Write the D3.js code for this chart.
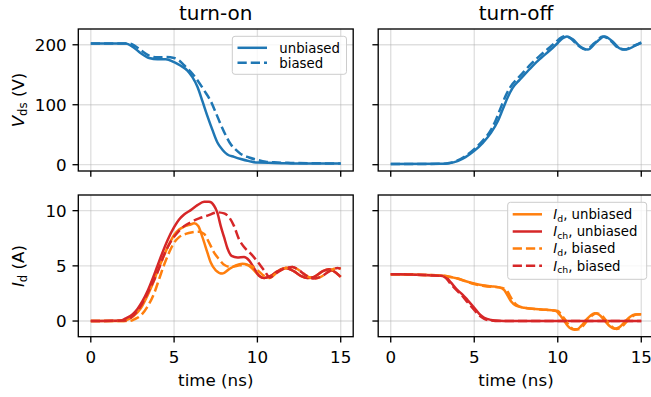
<!DOCTYPE html>
<html><head><meta charset="utf-8">
<script src="https://cdn.jsdelivr.net/npm/d3@7"></script>
<style>
html,body{margin:0;padding:0;background:#fff;}
svg{display:block;font-family:"DejaVu Sans",sans-serif;}
</style></head>
<body><svg id="chart" width="651" height="397"></svg>
<script>
// ---------- data ----------
const xTicks = [0, 5, 10, 15];
const vdsTicks = [0, 100, 200];
const idTicks = [0, 5, 10];
const titles = ["turn-on", "turn-off"];

// turn-on, V_ds
const onVdsUnbiasedT = [0, 2.1, 2.5, 3.0, 3.5, 4.0, 4.5, 5.0, 5.4, 5.8, 6.1, 6.4, 6.7, 7.0, 7.3, 7.6, 7.9, 8.2, 8.6, 9.0, 9.5, 10, 11, 13, 15];
const onVdsUnbiasedV = [202, 202, 197, 186, 178, 176, 176, 171, 165, 157, 146, 130, 106, 81, 58, 37, 25, 17, 13, 9.5, 6, 3.5, 3, 2, 2];
const onVdsBiasedT = [0, 2.3, 2.6, 3.0, 3.5, 4.0, 4.5, 5.0, 5.3, 5.6, 6.0, 6.4, 6.8, 7.2, 7.5, 7.8, 8.1, 8.4, 8.7, 9.0, 9.5, 10, 10.5, 11, 12, 15];
const onVdsBiasedV = [202, 202, 199, 191, 182, 179, 179.5, 178, 174, 166, 155, 141, 124, 106, 87, 67, 49, 34, 25, 18, 12, 8, 5, 4, 3, 2];

// turn-off, V_ds
const offVdsUnbiasedT = [0, 3, 3.5, 4.0, 4.5, 5.0, 5.5, 6.0, 6.4, 6.7, 7.0, 7.3, 7.7, 8.1, 8.5, 9.0, 9.5, 10.0, 10.3, 10.55, 10.9, 11.3, 11.8, 12.3, 12.8, 13.3, 13.7, 14.1, 14.6, 15];
const offVdsUnbiasedV = [1, 1.5, 2.5, 6, 13, 23, 36, 53, 72, 92, 112, 128, 141, 153, 165, 178, 190, 203, 211, 214, 209, 198, 192, 204, 214, 205, 194, 192, 198, 204];
const offVdsBiasedT = [0, 3, 3.5, 4.0, 4.5, 5.0, 5.5, 6.0, 6.3, 6.6, 6.9, 7.2, 7.6, 8.0, 8.4, 8.9, 9.4, 9.9, 10.2, 10.45, 10.8, 11.2, 11.7, 12.2, 12.7, 13.2, 13.6, 14.0, 14.5, 15];
const offVdsBiasedV = [1, 1.5, 3, 7, 15, 26, 40, 58, 75, 96, 116, 131, 144, 156, 168, 181, 193, 205, 212, 214.5, 210, 199, 192, 203, 214, 206, 195, 192, 198, 203];

// turn-on, currents
const onIdUnbiasedT = [0, 2.0, 2.3, 2.6, 3.0, 3.4, 3.7, 4.0, 4.3, 4.6, 5.0, 5.3, 5.6, 6.0, 6.2, 6.45, 6.7, 7.0, 7.2, 7.5, 7.9, 8.3, 8.7, 9.1, 9.4, 9.8, 10.1, 10.4, 10.8, 11.2, 11.7, 12.2, 12.6, 13.0, 13.4, 13.9, 14.3, 14.7, 15];
const onIdUnbiasedV = [0, 0, 0.2, 0.5, 1.15, 2.3, 3.3, 4.5, 5.6, 6.65, 7.8, 8.3, 8.55, 8.75, 8.85, 8.6, 7.6, 6.2, 5.3, 4.6, 4.3, 4.7, 5.05, 5.2, 5.1, 4.6, 4.1, 3.9, 4.1, 4.5, 4.8, 4.5, 4.1, 3.9, 4.0, 4.5, 4.7, 4.4, 4.0];
const onIchUnbiasedT = [0, 1.8, 2.1, 2.5, 2.8, 3.1, 3.4, 3.7, 4.0, 4.3, 4.6, 5.0, 5.3, 5.6, 6.0, 6.4, 6.8, 7.1, 7.4, 7.6, 7.8, 8.0, 8.2, 8.45, 8.8, 9.2, 9.5, 9.8, 10.1, 10.4, 10.8, 11.2, 11.7, 12.2, 12.6, 13.0, 13.4, 13.9, 14.3, 14.7, 15];
const onIchUnbiasedV = [0, 0.05, 0.25, 0.6, 1.1, 1.8, 2.7, 3.8, 5.0, 6.2, 7.3, 8.5, 9.2, 9.65, 10.05, 10.5, 10.8, 10.8, 10.45, 9.8, 8.6, 7.6, 6.6, 5.9, 5.75, 5.8, 5.5, 4.8, 4.1, 3.9, 4.1, 4.5, 4.8, 4.5, 4.1, 3.9, 4.0, 4.5, 4.7, 4.4, 4.0];
const onIdBiasedT = [0, 2.3, 2.6, 3.0, 3.4, 3.8, 4.1, 4.4, 4.7, 5.0, 5.3, 5.7, 6.1, 6.5, 6.8, 7.1, 7.4, 7.7, 8.0, 8.4, 8.8, 9.2, 9.6, 10.0, 10.4, 10.75, 11.1, 11.6, 12.1, 12.5, 12.9, 13.4, 13.8, 14.3, 14.8, 15];
const onIdBiasedV = [0, 0, 0.15, 0.5, 1.3, 2.5, 3.8, 5.1, 6.2, 7.1, 7.6, 7.9, 8.05, 8.1, 7.9, 7.1, 6.2, 5.6, 5.1, 4.9, 5.0, 5.1, 5.0, 4.6, 4.1, 3.9, 4.3, 4.75, 4.9, 4.6, 4.15, 3.85, 4.0, 4.5, 4.8, 4.75];
const onIchBiasedT = [0, 2.1, 2.4, 2.8, 3.2, 3.6, 4.0, 4.4, 4.8, 5.2, 5.6, 6.0, 6.5, 7.0, 7.6, 8.0, 8.3, 8.6, 8.9, 9.2, 9.6, 10.0, 10.4, 10.75, 11.1, 11.6, 12.1, 12.5, 12.9, 13.4, 13.8, 14.3, 14.8, 15];
const onIchBiasedV = [0, 0.05, 0.3, 0.9, 1.9, 3.1, 4.4, 6.0, 7.2, 8.0, 8.6, 8.95, 9.3, 9.55, 9.85, 9.75, 9.4, 8.6, 7.4, 6.7, 6.1, 5.4, 4.6, 3.95, 4.3, 4.75, 4.9, 4.6, 4.15, 3.85, 4.0, 4.5, 4.8, 4.75];

// turn-off, currents
const offIdUnbiasedT = [0, 1, 2, 3, 3.5, 4.0, 4.5, 5.0, 5.5, 6.0, 6.5, 6.8, 7.0, 7.2, 7.5, 8.0, 9.0, 9.9, 10.1, 10.35, 10.6, 10.9, 11.15, 11.4, 11.7, 12.0, 12.2, 12.5, 12.8, 13.1, 13.4, 13.7, 14.0, 14.3, 14.6, 15];
const offIdUnbiasedV = [4.25, 4.22, 4.18, 4.12, 4.02, 3.85, 3.6, 3.4, 3.25, 3.15, 3.05, 2.8, 2.3, 1.8, 1.4, 1.2, 1.05, 0.9, 0.6, 0.1, -0.45, -0.75, -0.75, -0.45, 0.1, 0.55, 0.7, 0.55, 0.05, -0.45, -0.7, -0.55, -0.1, 0.35, 0.6, 0.62];
const offIchUnbiasedT = [0, 1, 2, 3.0, 3.3, 3.6, 4.0, 4.3, 4.6, 5.0, 5.3, 5.6, 6.0, 6.5, 7, 15];
const offIchUnbiasedV = [4.25, 4.22, 4.17, 4.1, 4.0, 3.5, 2.8, 2.4, 1.9, 1.2, 0.65, 0.3, 0.1, 0.02, 0, 0];
const offIdBiasedT = [0, 1, 2, 3, 3.5, 4.0, 4.5, 5.0, 5.5, 6.0, 6.5, 6.9, 7.1, 7.3, 7.6, 8.0, 9.0, 10.0, 10.2, 10.45, 10.7, 11.0, 11.25, 11.5, 11.8, 12.1, 12.3, 12.6, 12.9, 13.2, 13.5, 13.8, 14.1, 14.4, 14.7, 15];
const offIdBiasedV = [4.25, 4.22, 4.18, 4.12, 4.02, 3.85, 3.6, 3.35, 3.2, 3.1, 3.05, 2.85, 2.4, 1.85, 1.4, 1.2, 1.05, 0.9, 0.6, 0.1, -0.45, -0.78, -0.75, -0.45, 0.1, 0.55, 0.7, 0.55, 0.05, -0.45, -0.72, -0.55, -0.1, 0.35, 0.6, 0.62];
const offIchBiasedT = [0, 1, 2, 3.0, 3.3, 3.6, 4.0, 4.3, 4.6, 5.0, 5.3, 5.6, 6.0, 6.5, 15];
const offIchBiasedV = [4.25, 4.22, 4.17, 4.08, 3.9, 3.35, 2.7, 2.25, 1.7, 1.0, 0.5, 0.2, 0.05, 0, 0];

// ---------- drawing ----------
const BLUE = "#1f77b4", ORANGE = "#ff7f0e", RED = "#d62728";
const DASH = "9.25,4";
const svg = d3.select("#chart");
const pair = (t, v) => t.map((d, i) => ({t: d, v: v[i]}));

const colX = [[78.3, 353.2], [378.2, 653.8]];
const rowY = [[29, 171], [195, 336.7]];

const panels = [
  {c: 0, r: 0, yDomain: [-10.5, 226.3], yTicks: vdsTicks, series: [
    {d: pair(onVdsUnbiasedT, onVdsUnbiasedV), color: BLUE},
    {d: pair(onVdsBiasedT, onVdsBiasedV), color: BLUE, dash: true}]},
  {c: 1, r: 0, yDomain: [-10.5, 226.3], yTicks: vdsTicks, series: [
    {d: pair(offVdsUnbiasedT, offVdsUnbiasedV), color: BLUE},
    {d: pair(offVdsBiasedT, offVdsBiasedV), color: BLUE, dash: true}]},
  {c: 0, r: 1, yDomain: [-1.42, 11.42], yTicks: idTicks, series: [
    {d: pair(onIdUnbiasedT, onIdUnbiasedV), color: ORANGE},
    {d: pair(onIchUnbiasedT, onIchUnbiasedV), color: RED},
    {d: pair(onIdBiasedT, onIdBiasedV), color: ORANGE, dash: true},
    {d: pair(onIchBiasedT, onIchBiasedV), color: RED, dash: true}]},
  {c: 1, r: 1, yDomain: [-1.42, 11.42], yTicks: idTicks, series: [
    {d: pair(offIdUnbiasedT, offIdUnbiasedV), color: ORANGE},
    {d: pair(offIchUnbiasedT, offIchUnbiasedV), color: RED},
    {d: pair(offIdBiasedT, offIdBiasedV), color: ORANGE, dash: true},
    {d: pair(offIchBiasedT, offIchBiasedV), color: RED, dash: true}]}
];

const TICKLEN = 5.8, PAD = 5.8, FS = 16.7;

panels.forEach((p, k) => {
  const [x0, x1] = colX[p.c], [y0, y1] = rowY[p.r];
  const x = d3.scaleLinear().domain([-0.75, 15.75]).range([x0, x1]);
  const y = d3.scaleLinear().domain(p.yDomain).range([y1, y0]);
  const g = svg.append("g");
  const clipId = "clip" + k;
  svg.append("clipPath").attr("id", clipId).append("rect")
    .attr("x", x0).attr("y", y0).attr("width", x1 - x0).attr("height", y1 - y0);

  // grid
  g.selectAll(".gx").data(xTicks).join("line")
    .attr("x1", d => x(d)).attr("x2", d => x(d)).attr("y1", y0).attr("y2", y1)
    .attr("stroke", "#b0b0b0").attr("stroke-opacity", 0.4).attr("stroke-width", 1.33);
  g.selectAll(".gy").data(p.yTicks).join("line")
    .attr("x1", x0).attr("x2", x1).attr("y1", d => y(d)).attr("y2", d => y(d))
    .attr("stroke", "#b0b0b0").attr("stroke-opacity", 0.4).attr("stroke-width", 1.33);

  // lines
  const line = d3.line().x(d => x(d.t)).y(d => y(d.v)).curve(d3.curveMonotoneX);
  const lg = g.append("g").attr("clip-path", `url(#${clipId})`);
  p.series.forEach(s => {
    lg.append("path").attr("d", line(s.d)).attr("fill", "none")
      .attr("stroke", s.color).attr("stroke-width", 2.5)
      .attr("stroke-dasharray", s.dash ? DASH : null)
      .attr("stroke-linejoin", "round");
  });

  // spines
  g.append("rect").attr("x", x0).attr("y", y0).attr("width", x1 - x0).attr("height", y1 - y0)
    .attr("fill", "none").attr("stroke", "#000").attr("stroke-width", 1.33);

  // ticks
  g.selectAll(".tx").data(xTicks).join("line")
    .attr("x1", d => x(d)).attr("x2", d => x(d)).attr("y1", y1).attr("y2", y1 + TICKLEN)
    .attr("stroke", "#000").attr("stroke-width", 1.33);
  g.selectAll(".ty").data(p.yTicks).join("line")
    .attr("x1", x0 - TICKLEN).attr("x2", x0).attr("y1", d => y(d)).attr("y2", d => y(d))
    .attr("stroke", "#000").attr("stroke-width", 1.33);

  if (p.r === 1) {
    g.selectAll(".lx").data(xTicks).join("text")
      .attr("x", d => x(d)).attr("y", 363).attr("text-anchor", "middle")
      .attr("font-size", FS).attr("fill", "#000").text(d => d);
    g.append("text").attr("x", (x0 + x1) / 2).attr("y", 385.5).attr("text-anchor", "middle")
      .attr("font-size", FS).attr("fill", "#000").text("time (ns)");
  }
  if (p.c === 0) {
    g.selectAll(".ly").data(p.yTicks).join("text")
      .attr("x", x0 - TICKLEN - PAD).attr("y", d => y(d) + 6.1).attr("text-anchor", "end")
      .attr("font-size", FS).attr("fill", "#000").text(d => d);
  }
  if (p.r === 0) {
    g.append("text").attr("x", (x0 + Math.min(x1, 653.8)) / 2).attr("y", 19.5)
      .attr("text-anchor", "middle").attr("font-size", 20).attr("fill", "#000")
      .text(titles[p.c]);
  }
});

// y labels
function ylabel(cy, sym, sub, rest) {
  const t = svg.append("text").attr("transform", `translate(23.5,${cy}) rotate(-90)`)
    .attr("text-anchor", "middle").attr("font-size", FS).attr("fill", "#000");
  t.append("tspan").attr("font-style", "italic").text(sym);
  t.append("tspan").attr("font-size", 11.7).attr("dy", 3.5).text(sub);
  t.append("tspan").attr("dy", -3.5).text(" " + rest);
}
ylabel(100, "V", "ds", "(V)");
ylabel(266, "I", "d", "(A)");

// legends
function legend(bx, by, bw, bh, hx0, hx1, tx, rows) {
  const g = svg.append("g");
  g.append("rect").attr("x", bx).attr("y", by).attr("width", bw).attr("height", bh)
    .attr("rx", 2.7).attr("fill", "#fff").attr("fill-opacity", 0.8)
    .attr("stroke", "#cccccc").attr("stroke-width", 1);
  rows.forEach(r => {
    g.append("line").attr("x1", hx0).attr("x2", hx1).attr("y1", r.y).attr("y2", r.y)
      .attr("stroke", r.color).attr("stroke-width", 2.5)
      .attr("stroke-dasharray", r.dash ? DASH : null);
    const t = g.append("text").attr("x", tx).attr("y", r.y + 4.8)
      .attr("font-size", 13.3).attr("fill", "#000");
    if (r.sym) {
      t.append("tspan").attr("font-style", "italic").text(r.sym);
      t.append("tspan").attr("font-size", 9.3).attr("dy", 2.8).text(r.sub);
      t.append("tspan").attr("dy", -2.8).text(r.rest);
    } else t.text(r.rest);
  });
}
legend(232.3, 36.3, 114.2, 38, 237.5, 267, 279.3, [
  {y: 47.8, color: BLUE, rest: "unbiased"},
  {y: 62.8, color: BLUE, dash: true, rest: "biased"}]);
legend(507.7, 202.3, 139, 77, 512.7, 542, 553.3, [
  {y: 214.3, color: ORANGE, sym: "I", sub: "d", rest: ", unbiased"},
  {y: 231.5, color: RED, sym: "I", sub: "ch", rest: ", unbiased"},
  {y: 248.5, color: ORANGE, dash: true, sym: "I", sub: "d", rest: ", biased"},
  {y: 265.7, color: RED, dash: true, sym: "I", sub: "ch", rest: ", biased"}]);
</script>
</body></html>
